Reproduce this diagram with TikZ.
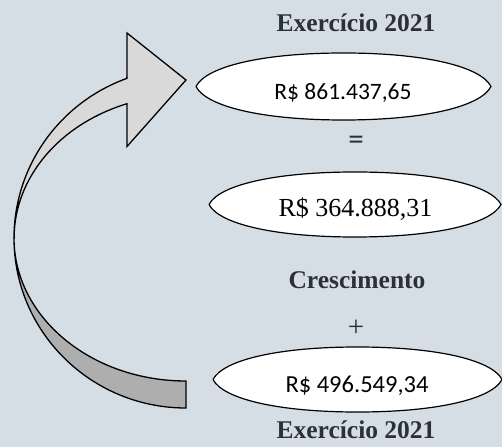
\documentclass[tikz,border=0pt]{standalone}
\usepackage{fontspec}
\setmainfont{Liberation Serif}
\newfontfamily\calib{Carlito}
\definecolor{bgc}{RGB}{213,221,229}
\definecolor{titc}{RGB}{44,48,60}
\definecolor{ribtop}{RGB}{217,217,217}
\definecolor{ribbot}{RGB}{174,174,174}
\newcommand{\lensat}[4]{%
  \draw[lensline] (#1-#3,#2)
    .. controls (#1-0.93*#3,#2+0.6*#4) and (#1-0.55*#3,#2+#4) .. (#1,#2+#4)
    .. controls (#1+0.55*#3,#2+#4) and (#1+0.93*#3,#2+0.6*#4) .. (#1+#3,#2)
    .. controls (#1+0.93*#3,#2-0.6*#4) and (#1+0.55*#3,#2-#4) .. (#1,#2-#4)
    .. controls (#1-0.55*#3,#2-#4) and (#1-0.93*#3,#2-0.6*#4) .. cycle;}
\begin{document}
\begin{tikzpicture}[x=1pt,y=1pt,
  lensline/.style={draw=black,fill=white,line width=1.2pt,line join=round},
  ribbon/.style={draw=black,line width=1.3pt,line join=miter},
  title/.style={font=\fontsize{25.5}{30}\selectfont\bfseries,text=titc,inner sep=0pt,anchor=base},
  valsans/.style={font=\calib\fontsize{23.5}{28}\selectfont,text=black,inner sep=0pt,anchor=base},
  valserif/.style={font=\fontsize{26}{30}\selectfont,text=black,inner sep=0pt,anchor=base},
  sym/.style={text=titc,inner sep=0pt}]
\useasboundingbox (0,0) rectangle (502,447);
\fill[bgc] (0,0) rectangle (502,447);
% ribbon arrow
\coordinate (C) at (186,209);
\draw[ribbon,fill=ribbot] (14,209) arc[start angle=180,end angle=270,x radius=172,y radius=170]
  -- (186,66) arc[start angle=270,end angle=180,x radius=172,y radius=143] -- cycle;
\draw[ribbon,fill=ribtop] (14,209) arc[start angle=180,end angle=110.1,x radius=172,y radius=170]
  -- (127,414) -- (186,367) -- (127,300.5)
  -- (127,343.3) arc[start angle=110.1,end angle=180,x radius=172,y radius=143] -- cycle;
% lenses
\lensat{343.5}{360.5}{147.5}{33.5}
\lensat{355}{242.5}{146}{32.5}
\lensat{357.5}{67.5}{144.5}{32.5}
% texts
\node[title] (t1) at (356,415) {Exercício 2021};
\node[valsans] (v1) at (343,347) {R\$ 861.437,65};
\node[sym,font=\calib\fontsize{31}{34}\selectfont] (eq) at (356,304) {=};
\node[valserif] (v2) at (355.5,230) {R\$ 364.888,31};
\node[title] (t2) at (357,159) {Crescimento};
\node[sym,font=\fontsize{29}{32}\selectfont] (pl) at (356,119) {+};
\node[valsans,font=\calib\fontsize{24.5}{28}\selectfont] (v3) at (357,55) {R\$ 496.549,34};
\node[title] (t3) at (356,9) {Exercício 2021};
\end{tikzpicture}
\end{document}
